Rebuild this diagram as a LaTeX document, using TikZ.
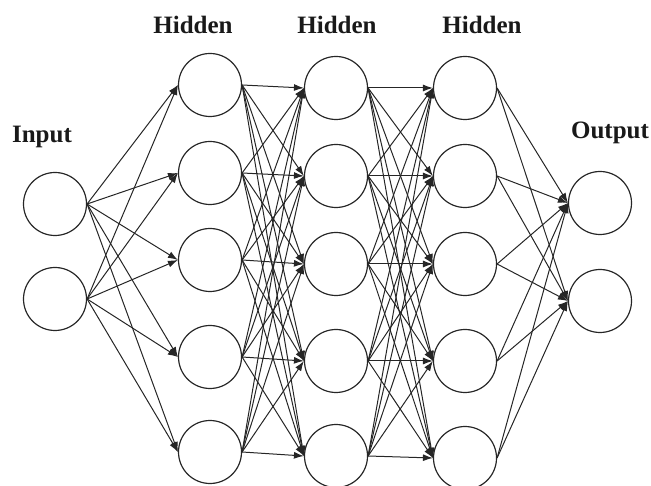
\documentclass[tikz,border=0pt]{standalone}
\usepackage{fontspec}
\setmainfont{Liberation Serif}
\usetikzlibrary{arrows.meta}
\begin{document}
\begin{tikzpicture}[x=1pt,y=-1pt,
  neuron/.style={circle,draw=black!85,line width=1.2pt,minimum size=63pt,inner sep=0pt},
  link/.style={draw=black!85,line width=1pt,-{Latex[length=10pt,width=7pt]}},
  lab/.style={font=\fontsize{25}{28}\selectfont\bfseries,text=black!90}]
\useasboundingbox (0,0) rectangle (651,486);
% input
\node[neuron] (i1) at (55,204) {};
\node[neuron] (i2) at (55,299) {};
% hidden 1
\foreach \n/\y in {1/85,2/173,3/260,4/357,5/452}
  \node[neuron] (a\n) at (210,\y) {};
% hidden 2
\foreach \n/\y in {1/88,2/176,3/264,4/361,5/456}
  \node[neuron] (b\n) at (336,\y) {};
% hidden 3
\foreach \n/\y in {1/88,2/176,3/264,4/361,5/458}
  \node[neuron] (c\n) at (465,\y) {};
% output
\node[neuron] (o1) at (600,203) {};
\node[neuron] (o2) at (600,301) {};
% labels
\node[lab] (lin) at (42,137) {Input};
\node[lab] (lh1) at (193,25) {Hidden};
\node[lab] (lh2) at (337,25) {Hidden};
\node[lab] (lh3) at (482,25) {Hidden};
\node[lab] (lout) at (610,133) {Output};
% connections
\foreach \s in {1,2}
  \foreach \t in {1,...,5}
    \draw[link] (i\s.east) -- (a\t.west);
\foreach \s in {1,...,5}
  \foreach \t in {1,...,5}
    \draw[link] (a\s.east) -- (b\t.west);
\foreach \s in {1,...,5}
  \foreach \t in {1,...,5}
    \draw[link] (b\s.east) -- (c\t.west);
\foreach \s in {1,...,5}
  \foreach \t in {1,2}
    \draw[link] (c\s.east) -- (o\t.west);
\end{tikzpicture}
\end{document}
